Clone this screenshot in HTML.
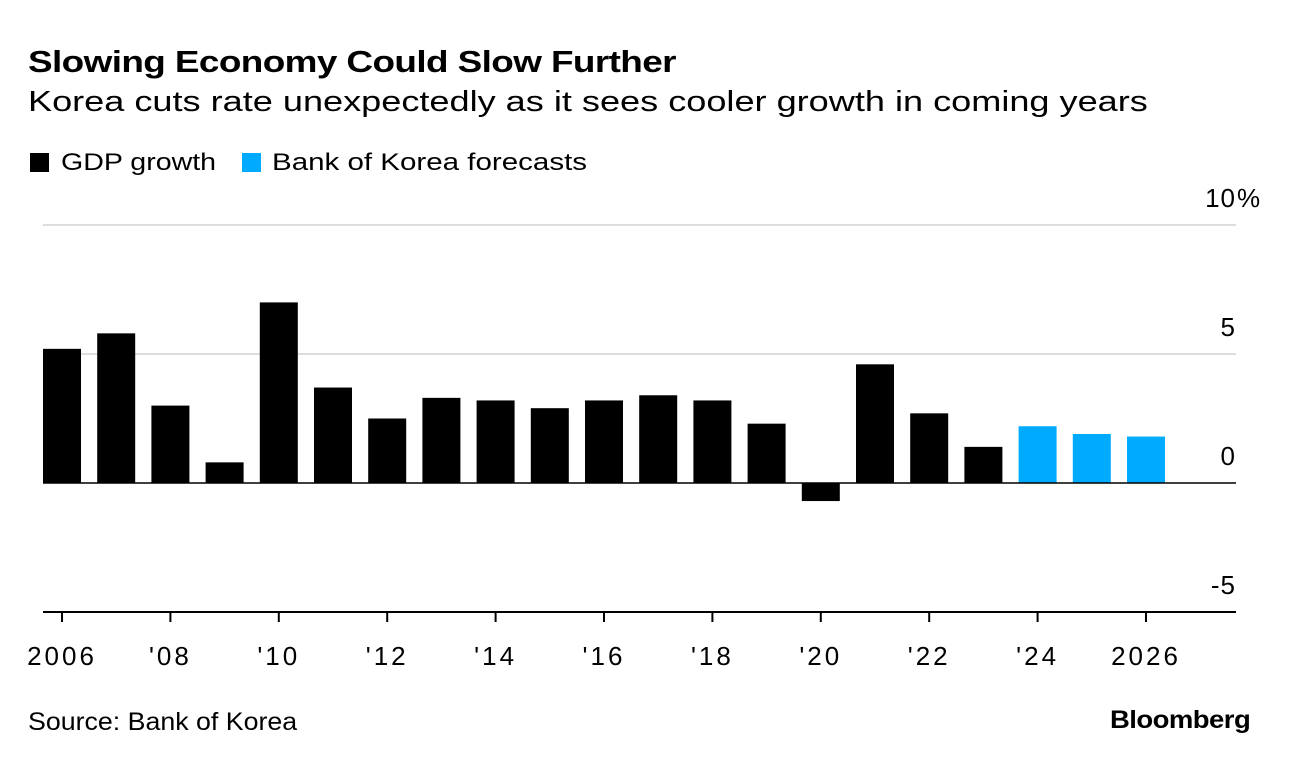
<!DOCTYPE html>
<html><head><meta charset="utf-8"><style>
body{margin:0;background:#fff;font-family:"Liberation Sans",sans-serif;}
#wrap{position:relative;width:1289px;height:766px;overflow:hidden;}
.t{position:absolute;white-space:nowrap;color:#000;transform-origin:left top;}
</style></head><body>
<div id="wrap">
<div class="t" style="left:28px;top:44px;font-size:31px;font-weight:bold;letter-spacing:-0.5px;transform:scaleX(1.19)">Slowing Economy Could Slow Further</div>
<div class="t" style="left:28px;top:86px;font-size:29px;transform:scaleX(1.245)">Korea cuts rate unexpectedly as it sees cooler growth in coming years</div>
<div class="t" style="left:30px;top:149px;font-size:24px"><span style="display:inline-block;width:19px;height:19px;background:#000;vertical-align:-2px;margin-right:12px"></span><span style="display:inline-block;transform:scaleX(1.19);transform-origin:left">GDP growth</span></div>
<div class="t" style="left:242px;top:149px;font-size:24px"><span style="display:inline-block;width:19px;height:19px;background:#00aaff;vertical-align:-2px;margin-right:11px"></span><span style="display:inline-block;transform:scaleX(1.23);transform-origin:left">Bank of Korea forecasts</span></div>
<svg id="plot" width="1289" height="766" style="position:absolute;left:0;top:0"></svg>
<div class="t" style="left:28px;top:708px;font-size:25px;transform:scaleX(1.07)">Source: Bank of Korea</div>
<div class="t" style="left:1110px;top:706px;font-size:25px;font-weight:bold;letter-spacing:-0.5px;transform:scaleX(1.1)">Bloomberg</div>
</div>
<script>
const years=[2006,2007,2008,2009,2010,2011,2012,2013,2014,2015,2016,2017,2018,2019,2020,2021,2022,2023,2024,2025,2026];
const gdp=[5.2,5.8,3.0,0.8,7.0,3.7,2.5,3.3,3.2,2.9,3.2,3.4,3.2,2.3,-0.7,4.6,2.7,1.4,2.2,1.9,1.8];
const forecast=[false,false,false,false,false,false,false,false,false,false,false,false,false,false,false,false,false,false,true,true,true];
const yTicks=[10,5,0,-5];
const yTickLabels=["10","5","0","-5"];
const xTickYears=[2006,2008,2010,2012,2014,2016,2018,2020,2022,2024,2026];
const xTickLabels=["2006","'08","'10","'12","'14","'16","'18","'20","'22","'24","2026"];
const NS="http://www.w3.org/2000/svg";
const svg=document.getElementById('plot');
const y=v=>483-v*25.8;
const x=yr=>62+(yr-2006)*54.2;
function mk(tag,attrs){const e=document.createElementNS(NS,tag);for(const k in attrs)e.setAttribute(k,attrs[k]);svg.appendChild(e);return e;}
yTicks.forEach((v,i)=>{
  if(v!==0&&v!==-5){const g=mk('line',{x1:43,x2:1236,y1:y(v),y2:y(v),stroke:'#ddd','stroke-width':2});
  
  }
  const t=mk('text',{x:1236,y:y(v)-18,'text-anchor':'end','font-size':26,'letter-spacing':1,'font-family':'Liberation Sans, sans-serif'});
  t.textContent=yTickLabels[i];
  
  
  if(i===0){const p=mk('text',{x:1237,y:y(v)-18,'font-size':26,'font-family':'Liberation Sans, sans-serif'});
  p.textContent='%';
  
  }
});
years.forEach((yr,i)=>{
  const v=gdp[i];const top=Math.min(y(v),y(0));const h=Math.abs(y(v)-y(0));
  const r=mk('rect',{x:x(yr)-19,y:top,width:38,height:h,fill:forecast[i]?'#00aaff':'#000'});
  
  
});
const zl=mk('line',{x1:43,x2:1236,y1:y(0),y2:y(0),stroke:'#000','stroke-width':1.5});


const ax=mk('line',{x1:43,x2:1236,y1:y(-5),y2:y(-5),stroke:'#000','stroke-width':2});


xTickYears.forEach((yr,i)=>{
  const tk=mk('line',{x1:x(yr),x2:x(yr),y1:y(-5),y2:y(-5)+10,stroke:'#000','stroke-width':2});
  
  
  const t=mk('text',{x:x(yr),y:665,'text-anchor':'middle','font-size':26,'letter-spacing':3,'font-family':'Liberation Sans, sans-serif'});
  t.textContent=xTickLabels[i];
  
  
});
</script>
</body></html>
